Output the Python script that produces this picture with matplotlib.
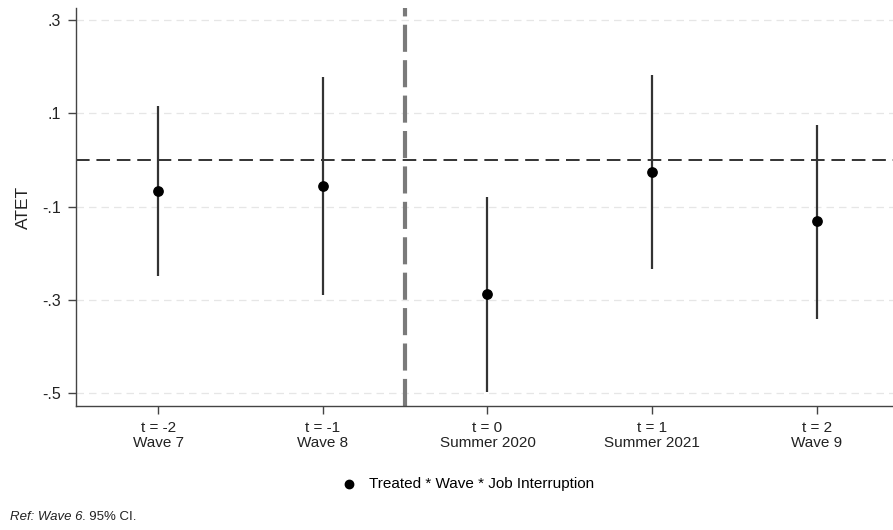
import matplotlib
matplotlib.use("Agg")
import matplotlib.pyplot as plt
import numpy as np

plt.rcParams['font.family'] = ['Liberation Sans', 'DejaVu Sans']

tick_labels = ["t = -2\nWave 7", "t = -1\nWave 8", "t = 0\nSummer 2020", "t = 1\nSummer 2021", "t = 2\nWave 9"]
periods = [-2, -1, 0, 1, 2]
atet = [-0.066, -0.057, -0.287, -0.025, -0.132]
ci_upper = [0.116, 0.178, -0.079, 0.182, 0.076]
ci_lower = [-0.248, -0.290, -0.497, -0.233, -0.342]
yticks = [0.3, 0.1, -0.1, -0.3, -0.5]
ytick_labels = [".3", ".1", "-.1", "-.3", "-.5"]

W, H = 893, 530
fig = plt.figure(figsize=(W/100, H/100), dpi=100)
ax = fig.add_axes([76/W, 124/H, (899-76)/W, 398/H])

ax.set_xlim(-2.5, 2.5)
ax.set_ylim(-0.528, 0.326)

for yv in yticks:
    ax.axhline(yv, color='#e6e6e6', lw=0.9, ls=(0, (6, 4)), zorder=0)
ax.axhline(0, color='#333333', lw=1.4, ls=(0, (7, 3.5)), zorder=1)
ax.axvline(-0.5, color='#7a7a7a', lw=3, ls=(0, (6.5, 2)), zorder=1)

ax.vlines(periods, ci_lower, ci_upper, color='#333333', lw=1.6, zorder=2)
ax.scatter(periods, atet, s=45, color='black', zorder=3, label='Treated * Wave * Job Interruption')

ax.set_yticks(yticks)
ax.set_yticklabels(ytick_labels, fontsize=11.5, color='#222222')
ax.set_xticks(periods)
ax.set_xticklabels(tick_labels, fontsize=11, color='#222222', linespacing=1.05)
ax.tick_params(axis='both', direction='out', width=1, color='#444444')
ax.tick_params(axis='y', length=6, pad=5)
ax.tick_params(axis='x', length=6, pad=5)
ax.set_ylabel("ATET", fontsize=12.5, color='#222222', labelpad=8)

for s in ['top', 'right']:
    ax.spines[s].set_visible(False)
for s in ['left', 'bottom']:
    ax.spines[s].set_color('#444444')
    ax.spines[s].set_linewidth(1.0)

fig.legend(loc='center left', bbox_to_anchor=(334/W, 1 - 484/H), frameon=False,
           fontsize=11, handletextpad=0.3, markerscale=0.9, borderaxespad=0, borderpad=0)

t1 = fig.text(10/W, 1 - 517/H, "Ref: Wave 6", fontsize=9.5, style='italic', color='#222222', va='center')
fig.canvas.draw()
bb = t1.get_window_extent()
fig.text(bb.x1/W, 1 - 517/H, ". 95% CI.", fontsize=9.5, color='#222222', va='center')

fig.savefig("out.png", dpi=100)
